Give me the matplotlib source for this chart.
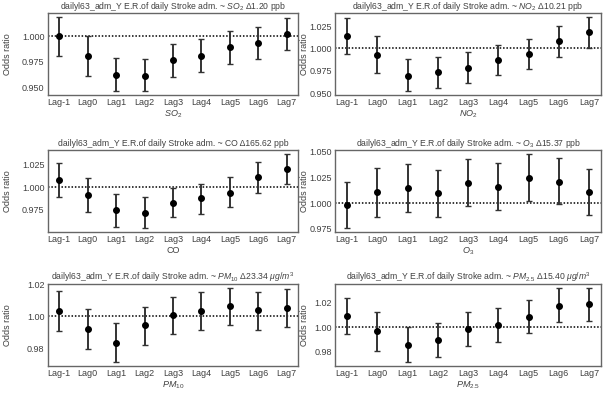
import matplotlib
matplotlib.use("Agg")
import matplotlib.pyplot as plt
import numpy as np
from matplotlib.ticker import FormatStrFormatter

lags = ["Lag-1", "Lag0", "Lag1", "Lag2", "Lag3", "Lag4", "Lag5", "Lag6", "Lag7"]

so2_or = [1.0006, 0.9806, 0.962, 0.9613, 0.9763, 0.981, 0.989, 0.9937, 1.0017]
so2_lo = [0.9806, 0.961, 0.946, 0.946, 0.9603, 0.9653, 0.973, 0.9773, 0.986]
so2_hi = [1.019, 1.000, 0.979, 0.978, 0.992, 0.997, 1.005, 1.0093, 1.018]

no2_or = [1.0141, 0.9931, 0.9695, 0.9733, 0.9775, 0.987, 0.9939, 1.0084, 1.0183]
no2_lo = [0.9939, 0.9726, 0.952, 0.9558, 0.9611, 0.9699, 0.9768, 0.9909, 1.000]
no2_hi = [1.0343, 1.0133, 0.9882, 0.9905, 0.9954, 1.0042, 1.011, 1.0255, 1.0354]

co_or = [1.0082, 0.991, 0.9746, 0.9716, 0.9828, 0.9877, 0.994, 1.0115, 1.0202]
co_lo = [0.9895, 0.9723, 0.9567, 0.9548, 0.9667, 0.9704, 0.978, 0.994, 1.0037]
co_hi = [1.0264, 1.0104, 0.9922, 0.9888, 0.9992, 1.004, 1.0108, 1.028, 1.037]

o3_or = [0.998, 1.0106, 1.0142, 1.0099, 1.0198, 1.0158, 1.0248, 1.0205, 1.0106]
o3_lo = [0.9753, 0.9868, 0.9908, 0.9868, 0.9967, 0.9927, 1.0017, 0.9987, 0.9878]
o3_hi = [1.0205, 1.034, 1.038, 1.0327, 1.0429, 1.0389, 1.0482, 1.0442, 1.0333]

pm10_or = [1.0033, 0.9921, 0.9837, 0.9944, 1.0008, 1.0033, 1.0062, 1.0039, 1.0054]
pm10_lo = [0.991, 0.9797, 0.9715, 0.9825, 0.9891, 0.9913, 0.9946, 0.9917, 0.9934]
pm10_hi = [1.0157, 1.0047, 0.9959, 1.006, 1.0121, 1.015, 1.0177, 1.0153, 1.0169]

pm25_or = [1.0096, 0.9967, 0.986, 0.9895, 0.9989, 1.0022, 1.0085, 1.0176, 1.0187]
pm25_lo = [0.9945, 0.981, 0.9716, 0.9757, 0.9848, 0.9884, 0.9953, 1.0044, 1.005]
pm25_hi = [1.0242, 1.0124, 1.0005, 1.0036, 1.0124, 1.0159, 1.0223, 1.0319, 1.0323]

titles = [
    r"dailyl63_adm_Y E.R.of daily Stroke adm. ~ $SO_2$ Δ1.20 ppb",
    r"dailyl63_adm_Y E.R.of daily Stroke adm. ~ $NO_2$ Δ10.21 ppb",
    r"dailyl63_adm_Y E.R.of daily Stroke adm. ~ CO Δ165.62 ppb",
    r"dailyl63_adm_Y E.R.of daily Stroke adm. ~ $O_3$ Δ15.37 ppb",
    r"dailyl63_adm_Y E.R.of daily Stroke adm. ~ $PM_{10}$ Δ23.34 $\mu g/m^3$",
    r"dailyl63_adm_Y E.R.of daily Stroke adm. ~ $PM_{2.5}$ Δ15.40 $\mu g/m^3$",
]
xlabels = [r"$SO_2$", r"$NO_2$", "CO", r"$O_3$", r"$PM_{10}$", r"$PM_{2.5}$"]
series = [
    (so2_or, so2_lo, so2_hi),
    (no2_or, no2_lo, no2_hi),
    (co_or, co_lo, co_hi),
    (o3_or, o3_lo, o3_hi),
    (pm10_or, pm10_lo, pm10_hi),
    (pm25_or, pm25_lo, pm25_hi),
]
yfmt = ["%.3f", "%.3f", "%.3f", "%.3f", "%.2f", "%.2f"]

plt.rcParams["font.family"] = ["Liberation Sans", "DejaVu Sans"]
plt.rcParams["mathtext.fontset"] = "custom"
plt.rcParams["mathtext.rm"] = "Liberation Sans"
plt.rcParams["mathtext.it"] = "Liberation Sans:italic"
plt.rcParams["mathtext.bf"] = "Liberation Sans:bold"
plt.rcParams["text.color"] = "0.25"
plt.rcParams["axes.labelcolor"] = "0.25"
plt.rcParams["xtick.color"] = "0.25"
plt.rcParams["ytick.color"] = "0.25"

fig = plt.figure(figsize=(6.06, 4.0), dpi=100)
lefts = [0.079, 0.553]
widths = [0.413, 0.439]
ylab_x = [-0.145, -0.10]
bottoms = [0.7625, 0.42, 0.085]
height = 0.205

for i in range(6):
    r, c = divmod(i, 2)
    ax = fig.add_axes([lefts[c], bottoms[r], widths[c], height])
    orv, lo, hi = (np.array(a) for a in series[i])
    x = np.arange(len(lags))
    ax.errorbar(x, orv, yerr=[orv - lo, hi - orv], fmt="o", color="black",
                ecolor="0.2", elinewidth=1.4, capsize=2.4, capthick=1.0,
                markersize=4, zorder=3)
    ax.axhline(1.0, color="black", linestyle=(0, (1, 1.2)), linewidth=1.1, zorder=2)
    ax.set_xticks(x)
    ax.set_xticklabels(lags)
    ax.yaxis.set_major_formatter(FormatStrFormatter(yfmt[i]))
    ax.tick_params(length=0, labelsize=6.5, pad=2.5)
    ax.set_title(titles[i], fontsize=6.2, pad=3)
    ax.set_xlabel(xlabels[i], fontsize=6.5, labelpad=1)
    ax.set_ylabel("Odds ratio", fontsize=6.5)
    ax.yaxis.set_label_coords(ylab_x[c], 0.5)
    for s in ax.spines.values():
        s.set_color("0.4")
        s.set_linewidth(1.0)

fig.savefig("out.png", dpi=100)
